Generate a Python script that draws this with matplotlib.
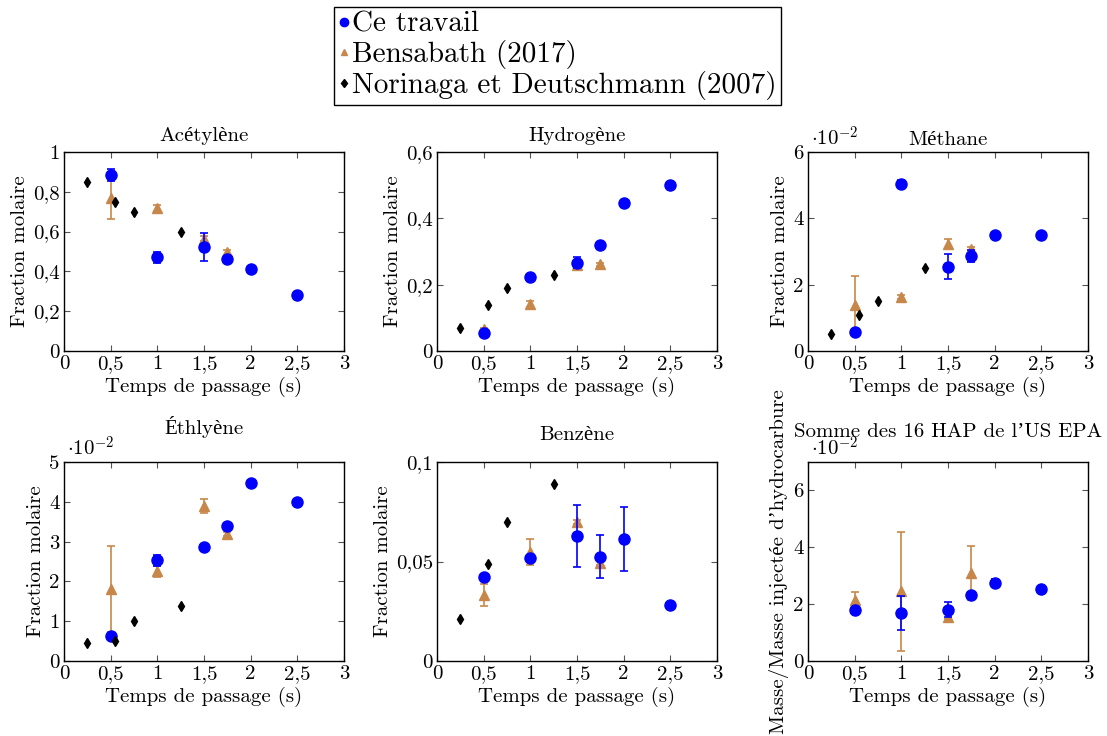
import numpy as np
import matplotlib
matplotlib.use('Agg')
import matplotlib.pyplot as plt
from matplotlib.lines import Line2D

plt.rcParams['font.family'] = ['cmr10', 'Liberation Serif', 'DejaVu Serif']
plt.rcParams['mathtext.fontset'] = 'cm'
plt.rcParams['axes.unicode_minus'] = False

BLUE = '#0000ff'
TAN = '#c8874a'

# --- data (values as displayed on each panel's axis) ---
x_ce = [0.5, 1.0, 1.5, 1.75, 2.0, 2.5]
x_ben = [0.5, 1.0, 1.5, 1.75]
x_nor = [0.25, 0.55, 0.75, 1.25]

acet_ce = [0.884, 0.471, 0.522, 0.46, 0.41, 0.28]
acet_ce_err = [0.032, 0.028, 0.07, 0.01, 0.005, 0.005]
acet_ben = [0.77, 0.72, 0.565, 0.495]
acet_ben_err = [0.105, 0.015, 0.012, 0.012]
acet_nor = [0.851, 0.75, 0.70, 0.60]

h2_ce = [0.055, 0.223, 0.266, 0.319, 0.445, 0.501]
h2_ce_err = [0.004, 0.005, 0.016, 0.004, 0.004, 0.003]
h2_ben = [0.065, 0.142, 0.258, 0.261]
h2_ben_err = [0.004, 0.01, 0.013, 0.005]
h2_nor = [0.07, 0.14, 0.19, 0.23]

ch4_ce = [0.565, 5.03, 2.54, 2.87, 3.50, 3.51]
ch4_ce_err = [0.05, 0.13, 0.37, 0.18, 0.05, 0.05]
ch4_ben = [1.40, 1.62, 3.23, 3.07]
ch4_ben_err = [0.85, 0.06, 0.16, 0.06]
ch4_nor = [0.50, 1.10, 1.50, 2.50]

c2h4_ce = [0.63, 2.53, 2.86, 3.38, 4.47, 3.99]
c2h4_ce_err = [0.05, 0.14, 0.04, 0.05, 0.03, 0.05]
c2h4_ben = [1.80, 2.25, 3.89, 3.19]
c2h4_ben_err = [1.08, 0.14, 0.17, 0.05]
c2h4_nor = [0.44, 0.51, 1.00, 1.39]

bz_ce = [0.042, 0.0518, 0.0629, 0.0525, 0.0612, 0.0279]
bz_ce_err = [0.0008, 0.0008, 0.0157, 0.011, 0.0162, 0.0005]
bz_ben = [0.033, 0.0549, 0.070, 0.0493]
bz_ben_err = [0.0055, 0.0065, 0.001, 0.001]
bz_nor = [0.021, 0.0488, 0.070, 0.0891]

hap_ce = [1.79, 1.69, 1.81, 2.32, 2.75, 2.52]
hap_ce_err = [0.12, 0.6, 0.25, 0.12, 0.12, 0.06]
hap_ben = [2.14, 2.45, 1.56, 3.09]
hap_ben_err = [0.28, 2.1, 0.1, 0.95]

x_ticks = [0, 0.5, 1, 1.5, 2, 2.5, 3]
x_ticklabels = ['0', '0,5', '1', '1,5', '2', '2,5', '3']

series_names = ['Ce travail', 'Bensabath (2017)', 'Norinaga et Deutschmann (2007)']

panels = [
    # title, ce, ce_err, ben, ben_err, nor, ymax, yticks, yticklabels, ylabel, scaled
    ('Acétylène', acet_ce, acet_ce_err, acet_ben, acet_ben_err, acet_nor, 1.0,
     [0, 0.2, 0.4, 0.6, 0.8, 1.0], ['0', '0,2', '0,4', '0,6', '0,8', '1'], 'Fraction molaire', False),
    ('Hydrogène', h2_ce, h2_ce_err, h2_ben, h2_ben_err, h2_nor, 0.6,
     [0, 0.2, 0.4, 0.6], ['0', '0,2', '0,4', '0,6'], 'Fraction molaire', False),
    ('Méthane', ch4_ce, ch4_ce_err, ch4_ben, ch4_ben_err, ch4_nor, 6,
     [0, 2, 4, 6], ['0', '2', '4', '6'], 'Fraction molaire', True),
    ('Éthlyène', c2h4_ce, c2h4_ce_err, c2h4_ben, c2h4_ben_err, c2h4_nor, 5,
     [0, 1, 2, 3, 4, 5], ['0', '1', '2', '3', '4', '5'], 'Fraction molaire', True),
    ('Benzène', bz_ce, bz_ce_err, bz_ben, bz_ben_err, bz_nor, 0.1,
     [0, 0.05, 0.1], ['0', '0,05', '0,1'], 'Fraction molaire', False),
    ('Somme des 16 HAP de l’US EPA', hap_ce, hap_ce_err, hap_ben, hap_ben_err, None, 7,
     [0, 2, 4, 6], ['0', '2', '4', '6'], 'Masse/Masse injectée d’hydrocarbure', True),
]

# axes boxes in pixels (left, top); all 280x199
lefts = [64, 437, 808]
tops = [152, 462]
title_pads = [8, 8, 5, 20, 16, 18]

W, H = 1107, 736
fig = plt.figure(figsize=(W / 100, H / 100), dpi=100)

for i, (title, ce, ce_err, ben, ben_err, nor, ymax, yt, ytl, ylab, scaled) in enumerate(panels):
    l = lefts[i % 3]
    t = tops[i // 3]
    ax = fig.add_axes([l / W, 1 - (t + 199) / H, 280 / W, 199 / H])

    ax.errorbar(x_ce, ce, yerr=ce_err, fmt='o', color=BLUE, ms=8,
                elinewidth=1.2, capsize=3, capthick=1.2, zorder=3)
    ax.errorbar(x_ben, ben, yerr=ben_err, fmt='^', color=TAN, ms=6.5,
                elinewidth=1.2, capsize=3, capthick=1.2, zorder=2)
    if nor is not None:
        ax.plot(x_nor, nor, 'd', color='black', ms=5.5, zorder=4)

    ax.set_xlim(0, 3)
    ax.set_ylim(0, ymax)
    ax.set_xticks(x_ticks)
    ax.set_xticklabels(x_ticklabels)
    ax.set_yticks(yt)
    ax.set_yticklabels(ytl)
    ax.tick_params(direction='in', top=True, right=True, length=4,
                   labelsize=15, color='#555555', pad=3)
    for s in ax.spines.values():
        s.set_linewidth(1.0)
    ax.set_xlabel('Temps de passage (s)', fontsize=15, labelpad=3)
    ax.set_ylabel(ylab, fontsize=15, labelpad=3)
    ax.set_title(title, fontsize=15, pad=title_pads[i])
    if scaled:
        ax.text(0.01, 1.01, r'$\cdot 10^{-2}$', transform=ax.transAxes,
                ha='left', va='bottom', fontsize=15)

handles = [
    Line2D([], [], ls='none', marker='o', color=BLUE, ms=6),
    Line2D([], [], ls='none', marker='^', color=TAN, ms=5),
    Line2D([], [], ls='none', marker='d', color='black', ms=4.5),
]
fig.legend(handles, series_names,
           loc='upper center', bbox_to_anchor=(557.5 / W, 1 - 7 / H),
           fontsize=21, frameon=True, fancybox=False, edgecolor='black',
           framealpha=1, handlelength=0.35, handletextpad=0.1, borderpad=0.15,
           labelspacing=0.08, borderaxespad=0)

fig.savefig('out.png', dpi=100)
